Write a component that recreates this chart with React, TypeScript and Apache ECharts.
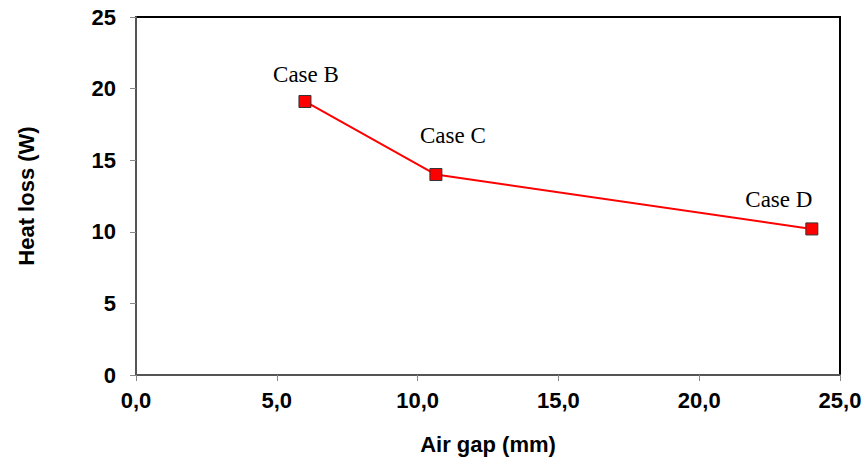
import React, { useEffect, useRef } from "react";
import * as echarts from "echarts";

const airGap = [6.0, 10.65, 24.0];
const heatLoss = [19.1, 14.0, 10.2];
const caseLabels = ["Case B", "Case C", "Case D"];
const labelOffsets: [number, number][] = [[1, 3], [17, -9], [-33, 1]];

export default function App() {
  const ref = useRef<HTMLDivElement>(null);
  useEffect(() => {
    document.body.style.margin = "0";
    const chart = echarts.init(ref.current!, null, { renderer: "svg" });
    const sansBold = {
      fontFamily: "Liberation Sans, Arial, sans-serif",
      fontWeight: "bold" as const,
      fontSize: 22,
      color: "#000",
    };
    chart.setOption({
      animation: false,
      backgroundColor: "#fff",
      grid: {
        left: 136,
        top: 17,
        right: 25,
        bottom: 88,
        show: true,
        borderColor: "#000",
        borderWidth: 2,
        backgroundColor: "transparent",
      },
      xAxis: {
        type: "value",
        min: 0,
        max: 25,
        interval: 5,
        name: "Air gap (mm)",
        nameLocation: "middle",
        nameGap: 58,
        nameTextStyle: { ...sansBold, fontSize: 22 },
        axisLine: { show: true, lineStyle: { color: "#555", width: 2 } },
        axisTick: { show: true, inside: false, length: 6, lineStyle: { color: "#888", width: 1 } },
        axisLabel: {
          ...sansBold,
          margin: 14,
          formatter: (v: number) => v.toFixed(1).replace(".", ","),
        },
        splitLine: { show: false },
      },
      yAxis: {
        type: "value",
        min: 0,
        max: 25,
        interval: 5,
        name: "Heat loss (W)",
        nameLocation: "middle",
        nameGap: 99,
        nameRotate: 90,
        nameTextStyle: { ...sansBold, fontSize: 22 },
        axisLine: { show: true, lineStyle: { color: "#555", width: 2 } },
        axisTick: { show: true, inside: false, length: 6, lineStyle: { color: "#888", width: 1 } },
        axisLabel: { ...sansBold, margin: 20 },
        splitLine: { show: false },
      },
      series: [
        {
          type: "line",
          data: airGap.map((x, i) => ({
            value: [x, heatLoss[i]],
            label: {
              show: true,
              position: "top",
              distance: 12,
              offset: labelOffsets[i],
              formatter: caseLabels[i],
              fontFamily: "Liberation Serif, Times New Roman, serif",
              fontSize: 23,
              color: "#000",
            },
          })),
          symbol: "rect",
          symbolSize: 12,
          lineStyle: { color: "#ff0000", width: 2 },
          itemStyle: { color: "#ff0000", borderColor: "#333", borderWidth: 1 },
        },
      ],
    });
    return () => chart.dispose();
  }, []);
  return <div ref={ref} style={{ width: 865, height: 463 }} />;
}
